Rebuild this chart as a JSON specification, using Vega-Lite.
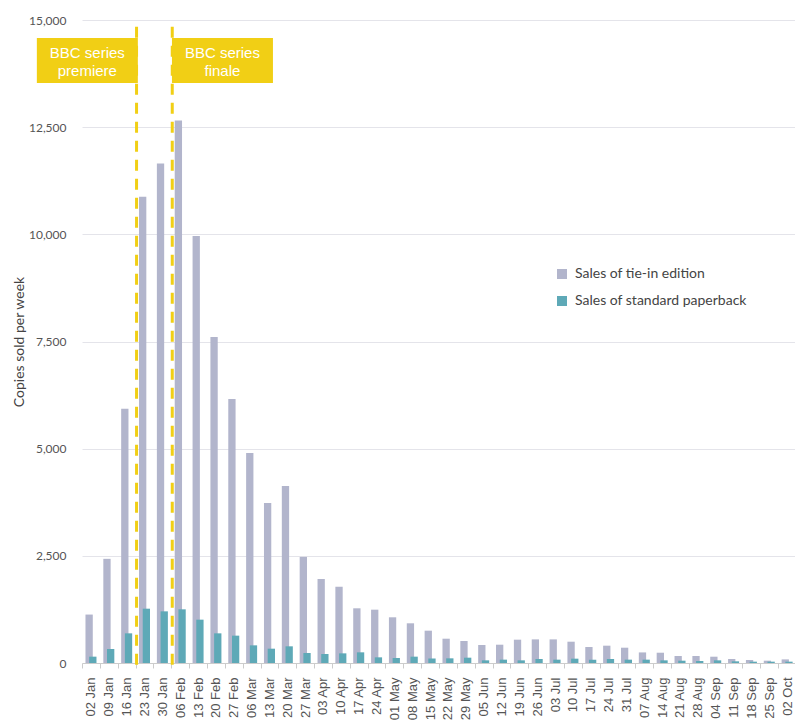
{
  "$schema": "https://vega.github.io/schema/vega-lite/v6.json",
  "width": 714,
  "height": 643,
  "autosize": {"type": "none"},
  "padding": {"left": 82, "top": 20, "right": 0, "bottom": 57},
  "background": "white",
  "config": {"view": {"stroke": null}},
  "datasets": {
    "sales": [
      {"week": "02 Jan", "series": "Sales of tie-in edition", "copies": 1130}, {"week": "02 Jan", "series": "Sales of standard paperback", "copies": 148},
      {"week": "09 Jan", "series": "Sales of tie-in edition", "copies": 2430}, {"week": "09 Jan", "series": "Sales of standard paperback", "copies": 327},
      {"week": "16 Jan", "series": "Sales of tie-in edition", "copies": 5930}, {"week": "16 Jan", "series": "Sales of standard paperback", "copies": 692},
      {"week": "23 Jan", "series": "Sales of tie-in edition", "copies": 10875}, {"week": "23 Jan", "series": "Sales of standard paperback", "copies": 1267},
      {"week": "30 Jan", "series": "Sales of tie-in edition", "copies": 11655}, {"week": "30 Jan", "series": "Sales of standard paperback", "copies": 1205},
      {"week": "06 Feb", "series": "Sales of tie-in edition", "copies": 12655}, {"week": "06 Feb", "series": "Sales of standard paperback", "copies": 1252},
      {"week": "13 Feb", "series": "Sales of tie-in edition", "copies": 9960}, {"week": "13 Feb", "series": "Sales of standard paperback", "copies": 1011},
      {"week": "20 Feb", "series": "Sales of tie-in edition", "copies": 7605}, {"week": "20 Feb", "series": "Sales of standard paperback", "copies": 692},
      {"week": "27 Feb", "series": "Sales of tie-in edition", "copies": 6160}, {"week": "27 Feb", "series": "Sales of standard paperback", "copies": 638},
      {"week": "06 Mar", "series": "Sales of tie-in edition", "copies": 4900}, {"week": "06 Mar", "series": "Sales of standard paperback", "copies": 412},
      {"week": "13 Mar", "series": "Sales of tie-in edition", "copies": 3735}, {"week": "13 Mar", "series": "Sales of standard paperback", "copies": 334},
      {"week": "20 Mar", "series": "Sales of tie-in edition", "copies": 4130}, {"week": "20 Mar", "series": "Sales of standard paperback", "copies": 389},
      {"week": "27 Mar", "series": "Sales of tie-in edition", "copies": 2475}, {"week": "27 Mar", "series": "Sales of standard paperback", "copies": 233},
      {"week": "03 Apr", "series": "Sales of tie-in edition", "copies": 1960}, {"week": "03 Apr", "series": "Sales of standard paperback", "copies": 210},
      {"week": "10 Apr", "series": "Sales of tie-in edition", "copies": 1780}, {"week": "10 Apr", "series": "Sales of standard paperback", "copies": 225},
      {"week": "17 Apr", "series": "Sales of tie-in edition", "copies": 1276}, {"week": "17 Apr", "series": "Sales of standard paperback", "copies": 249},
      {"week": "24 Apr", "series": "Sales of tie-in edition", "copies": 1244}, {"week": "24 Apr", "series": "Sales of standard paperback", "copies": 132},
      {"week": "01 May", "series": "Sales of tie-in edition", "copies": 1066}, {"week": "01 May", "series": "Sales of standard paperback", "copies": 117},
      {"week": "08 May", "series": "Sales of tie-in edition", "copies": 926}, {"week": "08 May", "series": "Sales of standard paperback", "copies": 148},
      {"week": "15 May", "series": "Sales of tie-in edition", "copies": 754}, {"week": "15 May", "series": "Sales of standard paperback", "copies": 105},
      {"week": "22 May", "series": "Sales of tie-in edition", "copies": 567}, {"week": "22 May", "series": "Sales of standard paperback", "copies": 109},
      {"week": "29 May", "series": "Sales of tie-in edition", "copies": 513}, {"week": "29 May", "series": "Sales of standard paperback", "copies": 124},
      {"week": "05 Jun", "series": "Sales of tie-in edition", "copies": 420}, {"week": "05 Jun", "series": "Sales of standard paperback", "copies": 62},
      {"week": "12 Jun", "series": "Sales of tie-in edition", "copies": 427}, {"week": "12 Jun", "series": "Sales of standard paperback", "copies": 78},
      {"week": "19 Jun", "series": "Sales of tie-in edition", "copies": 544}, {"week": "19 Jun", "series": "Sales of standard paperback", "copies": 62},
      {"week": "26 Jun", "series": "Sales of tie-in edition", "copies": 551}, {"week": "26 Jun", "series": "Sales of standard paperback", "copies": 93},
      {"week": "03 Jul", "series": "Sales of tie-in edition", "copies": 551}, {"week": "03 Jul", "series": "Sales of standard paperback", "copies": 78},
      {"week": "10 Jul", "series": "Sales of tie-in edition", "copies": 497}, {"week": "10 Jul", "series": "Sales of standard paperback", "copies": 101},
      {"week": "17 Jul", "series": "Sales of tie-in edition", "copies": 373}, {"week": "17 Jul", "series": "Sales of standard paperback", "copies": 78},
      {"week": "24 Jul", "series": "Sales of tie-in edition", "copies": 404}, {"week": "24 Jul", "series": "Sales of standard paperback", "copies": 93},
      {"week": "31 Jul", "series": "Sales of tie-in edition", "copies": 357}, {"week": "31 Jul", "series": "Sales of standard paperback", "copies": 78},
      {"week": "07 Aug", "series": "Sales of tie-in edition", "copies": 247}, {"week": "07 Aug", "series": "Sales of standard paperback", "copies": 78},
      {"week": "14 Aug", "series": "Sales of tie-in edition", "copies": 240}, {"week": "14 Aug", "series": "Sales of standard paperback", "copies": 62},
      {"week": "21 Aug", "series": "Sales of tie-in edition", "copies": 163}, {"week": "21 Aug", "series": "Sales of standard paperback", "copies": 54},
      {"week": "28 Aug", "series": "Sales of tie-in edition", "copies": 163}, {"week": "28 Aug", "series": "Sales of standard paperback", "copies": 47},
      {"week": "04 Sep", "series": "Sales of tie-in edition", "copies": 147}, {"week": "04 Sep", "series": "Sales of standard paperback", "copies": 62},
      {"week": "11 Sep", "series": "Sales of tie-in edition", "copies": 93}, {"week": "11 Sep", "series": "Sales of standard paperback", "copies": 39},
      {"week": "18 Sep", "series": "Sales of tie-in edition", "copies": 70}, {"week": "18 Sep", "series": "Sales of standard paperback", "copies": 31},
      {"week": "25 Sep", "series": "Sales of tie-in edition", "copies": 54}, {"week": "25 Sep", "series": "Sales of standard paperback", "copies": 31},
      {"week": "02 Oct", "series": "Sales of tie-in edition", "copies": 84}, {"week": "02 Oct", "series": "Sales of standard paperback", "copies": 31}
    ],
    "events": [
      {"week": "23 Jan", "label": "BBC series\npremiere", "side": "left"},
      {"week": "06 Feb", "label": "BBC series\nfinale", "side": "right"}
    ]
  },
  "encoding": {
    "x": {
      "field": "week",
      "type": "ordinal",
      "scale": {
        "domain": ["02 Jan","09 Jan","16 Jan","23 Jan","30 Jan","06 Feb","13 Feb","20 Feb","27 Feb","06 Mar","13 Mar","20 Mar","27 Mar","03 Apr","10 Apr","17 Apr","24 Apr","01 May","08 May","15 May","22 May","29 May","05 Jun","12 Jun","19 Jun","26 Jun","03 Jul","10 Jul","17 Jul","24 Jul","31 Jul","07 Aug","14 Aug","21 Aug","28 Aug","04 Sep","11 Sep","18 Sep","25 Sep","02 Oct"],
        "paddingInner": 0,
        "paddingOuter": 0
      },
      "axis": {
        "title": null,
        "labelAngle": 270,
        "tickBand": "extent",
        "labelFont": "Liberation Sans",
        "labelFontSize": 13,
        "labelColor": "#555555",
        "tickColor": "#cccccc",
        "domainColor": "#cccccc",
        "tickSize": 5,
        "labelPadding": 9,
        "grid": false
      }
    }
  },
  "layer": [
    {
      "data": {"name": "sales"},
      "transform": [{"filter": "datum.series === 'Sales of tie-in edition'"}],
      "mark": {"type": "bar", "width": 7.3, "xOffset": -1.8},
      "encoding": {
        "y": {
          "field": "copies",
          "type": "quantitative",
          "scale": {"domain": [0, 15000], "nice": false},
          "axis": {
            "title": "Copies sold per week",
            "values": [0, 2500, 5000, 7500, 10000, 12500, 15000],
            "format": ",.0f",
            "domain": false,
            "ticks": false,
            "labelPadding": 16,
            "gridColor": "#e4e4ea",
            "labelFont": "Lato",
            "labelFontSize": 12,
            "labelColor": "#555555",
            "titleFont": "Lato",
            "titleFontSize": 14,
            "titleFontWeight": "normal",
            "titleColor": "#444444",
            "titlePadding": 2
          }
        },
        "color": {
          "field": "series",
          "type": "nominal",
          "scale": {
            "domain": ["Sales of tie-in edition", "Sales of standard paperback"],
            "range": ["#b2b5cc", "#5ea9b7"]
          },
          "legend": {
            "title": null,
            "orient": "none",
            "legendX": 473,
            "legendY": 247,
            "symbolType": "square",
            "symbolSize": 100,
            "symbolStrokeWidth": 0,
            "labelFont": "Lato",
            "labelFontSize": 14,
            "labelColor": "#444444",
            "labelLimit": 300,
            "rowPadding": 13,
            "labelOffset": 6
          }
        }
      }
    },
    {
      "data": {"name": "sales"},
      "transform": [{"filter": "datum.series === 'Sales of standard paperback'"}],
      "mark": {"type": "bar", "width": 7.3, "xOffset": 1.9},
      "encoding": {
        "y": {"field": "copies", "type": "quantitative"},
        "color": {"field": "series", "type": "nominal"}
      }
    },
    {
      "data": {"name": "events"},
      "mark": {"type": "rule", "color": "#f1cf15", "strokeWidth": 3, "strokeDash": [11, 8], "xOffset": 1},
      "encoding": {
        "x": {"field": "week", "type": "ordinal", "bandPosition": 0},
        "y": {"datum": 14840},
        "y2": {"datum": -115}
      }
    },
    {
      "data": {"name": "events"},
      "transform": [{"filter": "datum.side === 'left'"}],
      "mark": {"type": "rule", "color": "#f1cf15", "strokeWidth": 101, "strokeCap": "butt", "xOffset": -48.2},
      "encoding": {
        "x": {"field": "week", "type": "ordinal", "bandPosition": 0},
        "y": {"datum": 14580},
        "y2": {"datum": 13530}
      }
    },
    {
      "data": {"name": "events"},
      "transform": [{"filter": "datum.side === 'right'"}],
      "mark": {"type": "rule", "color": "#f1cf15", "strokeWidth": 101, "strokeCap": "butt", "xOffset": 51.2},
      "encoding": {
        "x": {"field": "week", "type": "ordinal", "bandPosition": 0},
        "y": {"datum": 14580},
        "y2": {"datum": 13530}
      }
    },
    {
      "data": {"name": "events"},
      "transform": [{"filter": "datum.side === 'left'"}],
      "mark": {"type": "text", "color": "#ffffff", "font": "Liberation Sans", "fontSize": 15, "align": "center", "baseline": "middle", "lineBreak": "\n", "lineHeight": 18, "xOffset": -48.2},
      "encoding": {
        "x": {"field": "week", "type": "ordinal", "bandPosition": 0},
        "y": {"datum": 14235},
        "text": {"field": "label"}
      }
    },
    {
      "data": {"name": "events"},
      "transform": [{"filter": "datum.side === 'right'"}],
      "mark": {"type": "text", "color": "#ffffff", "font": "Liberation Sans", "fontSize": 15, "align": "center", "baseline": "middle", "lineBreak": "\n", "lineHeight": 18, "xOffset": 51.2},
      "encoding": {
        "x": {"field": "week", "type": "ordinal", "bandPosition": 0},
        "y": {"datum": 14235},
        "text": {"field": "label"}
      }
    }
  ]
}
